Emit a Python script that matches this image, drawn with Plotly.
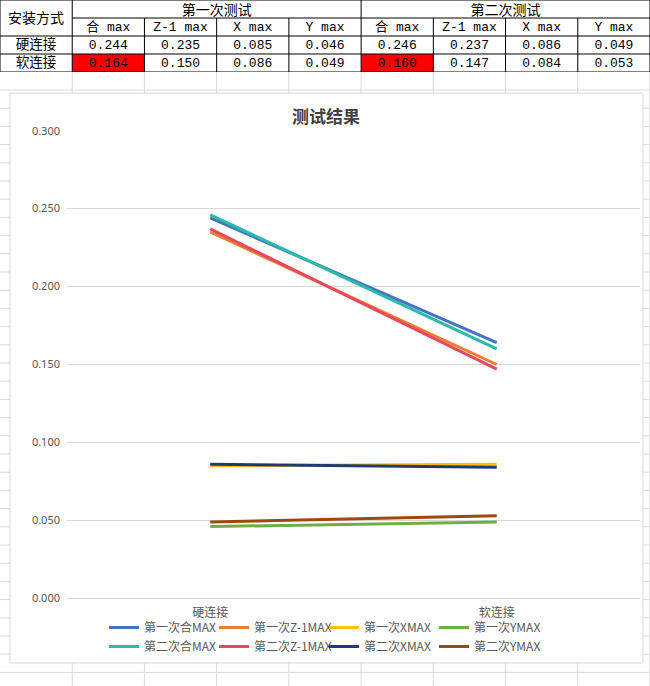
import plotly.graph_objects as go

# chart data
categories = ['硬连接', '软连接']
first_he = [0.244, 0.164]
first_z1 = [0.235, 0.150]
first_x = [0.085, 0.086]
first_y = [0.046, 0.049]
second_he = [0.246, 0.160]
second_z1 = [0.237, 0.147]
second_x = [0.086, 0.084]
second_y = [0.049, 0.053]

names_first = ['第一次合MAX', '第一次Z-1MAX', '第一次XMAX', '第一次YMAX']
names_second = ['第二次合MAX', '第二次Z-1MAX', '第二次XMAX', '第二次YMAX']

# table text
corner_label = '安装方式'
test_groups = ['第一次测试', '第二次测试']
metric_labels = ['合 max', 'Z-1 max', 'X max', 'Y max']

W, H = 650, 686


def px(x):
    return x / W


def py(y):
    return 1 - y / H


colors_first = ['#4472C4', '#ED7D31', '#FFC000', '#70AD47']
colors_second = ['#2CBAA8', '#E5495B', '#1F3B77', '#9E480E']

series_first = [first_he, first_z1, first_x, first_y]
series_second = [second_he, second_z1, second_x, second_y]

fig = go.Figure()

for name, vals, col in zip(names_first, series_first, colors_first):
    fig.add_trace(go.Scatter(x=categories, y=vals, mode='lines', name=name,
                             line=dict(color=col, width=3), legend='legend'))
for name, vals, col in zip(names_second, series_second, colors_second):
    fig.add_trace(go.Scatter(x=categories, y=vals, mode='lines', name=name,
                             line=dict(color=col, width=3), legend='legend2'))

# ---- table on its own axes (columns 0..9, rows 0..4) ----
table_rows = [[s[i] for s in series_first] + [s[i] for s in series_second]
              for i in range(len(categories))]

shapes = []
grid_col = '#dadada'
# spreadsheet grid
k = 1
while 72.2 * k < W:
    shapes.append(dict(type='line', xref='paper', yref='paper', layer='below',
                       x0=px(72.2 * k), x1=px(72.2 * k), y0=0, y1=py(72),
                       line=dict(color=grid_col, width=1)))
    k += 1
yy = 90
while yy < H:
    shapes.append(dict(type='line', xref='paper', yref='paper', layer='below',
                       x0=0, x1=1, y0=py(yy), y1=py(yy),
                       line=dict(color=grid_col, width=1)))
    yy += 18.2
# chart area
shapes.append(dict(type='rect', xref='paper', yref='paper', layer='below',
                   x0=px(10), x1=px(643), y0=py(663), y1=py(93),
                   fillcolor='white', line=dict(color='#d9d9d9', width=1)))

# highlighted cells
for g in range(2):
    c = 1 + 4 * g
    shapes.append(dict(type='rect', xref='x2', yref='y2', layer='below',
                       x0=c, x1=c + 1, y0=3, y1=4, fillcolor='#FF0000',
                       line=dict(width=0)))

black = dict(color='black', width=1)
for r in [0, 2, 3, 4]:
    shapes.append(dict(type='line', xref='x2', yref='y2', x0=0, x1=9, y0=r, y1=r, line=black))
shapes.append(dict(type='line', xref='x2', yref='y2', x0=1, x1=9, y0=1, y1=1, line=black))
for c in [0, 1, 5, 9]:
    shapes.append(dict(type='line', xref='x2', yref='y2', x0=c, x1=c, y0=0, y1=4, line=black))
for c in [2, 3, 4, 6, 7, 8]:
    shapes.append(dict(type='line', xref='x2', yref='y2', x0=c, x1=c, y0=1, y1=4, line=black))

# header texts
fig.add_trace(go.Scatter(x=[0.5, 3, 7], y=[1.08, 0.64, 0.64],
                         text=[corner_label] + test_groups, mode='text',
                         xaxis='x2', yaxis='y2',
                         textfont=dict(family='Noto Sans CJK SC', size=14, color='black'),
                         showlegend=False, hoverinfo='skip', cliponaxis=False))
fig.add_trace(go.Scatter(x=[0.5, 0.5], y=[2.52, 3.52], text=categories, mode='text',
                         xaxis='x2', yaxis='y2',
                         textfont=dict(family='Noto Sans CJK SC', size=13.5, color='black'),
                         showlegend=False, hoverinfo='skip'))
mx = [1.5 + i for i in range(8)]
fig.add_trace(go.Scatter(x=mx, y=[1.55] * 8, text=metric_labels * 2, mode='text',
                         xaxis='x2', yaxis='y2',
                         textfont=dict(family='Liberation Mono, Noto Sans CJK SC', size=13, color='black'),
                         showlegend=False, hoverinfo='skip'))
vx, vy, vt = [], [], []
for r, row in enumerate(table_rows):
    for c, v in enumerate(row):
        vx.append(1.5 + c)
        vy.append(2.55 + r)
        vt.append('%.3f' % v)
fig.add_trace(go.Scatter(x=vx, y=vy, text=vt, mode='text', xaxis='x2', yaxis='y2',
                         textfont=dict(family='Liberation Mono', size=13, color='black'),
                         showlegend=False, hoverinfo='skip'))

legend_style = dict(orientation='h', xanchor='left', yanchor='top', x=px(104),
                    entrywidth=65, bgcolor='rgba(0,0,0,0)',
                    font=dict(family='Noto Sans CJK SC', size=12, color='#595959'))

fig.update_layout(
    width=W, height=H,
    margin=dict(l=0, r=0, t=0, b=0, pad=0, autoexpand=False),
    paper_bgcolor='white',
    plot_bgcolor='rgba(0,0,0,0)',
    shapes=shapes,
    xaxis=dict(domain=[px(67), px(640)], type='category', range=[-0.5, 1.5],
               showgrid=False, showline=True, linecolor='#d9d9d9', ticks='',
               zeroline=False, automargin=False, ticklabelstandoff=3,
               tickfont=dict(family='Noto Sans CJK SC', size=12, color='#595959')),
    yaxis=dict(domain=[py(598.3), py(130.7)], range=[0, 0.3], dtick=0.05,
               tickformat='.3f', gridcolor='#d9d9d9', zeroline=False, showline=False,
               ticklabelstandoff=6, automargin=False,
               tickfont=dict(family='Noto Sans', size=11, color='#595959')),
    xaxis2=dict(domain=[0, 1], range=[0, 9], visible=False, fixedrange=True),
    yaxis2=dict(domain=[py(72), 1], range=[4, 0], visible=False, fixedrange=True),
    legend=dict(legend_style, y=py(613)),
    legend2=dict(legend_style, y=py(632)),
    annotations=[dict(text='<b>测试结果</b>', xref='paper', yref='paper',
                      x=px(326), y=py(115), xanchor='center', yanchor='middle',
                      showarrow=False,
                      font=dict(family='Noto Sans CJK SC', size=17, color='#404040'))],
)

page_fix = ("var s=document.createElement('style');"
            "s.innerHTML='html,body{margin:0;padding:0;overflow:hidden;}';"
            "document.head.appendChild(s);")

fig.write_html('out.html', config={'displayModeBar': False}, post_script=page_fix)
